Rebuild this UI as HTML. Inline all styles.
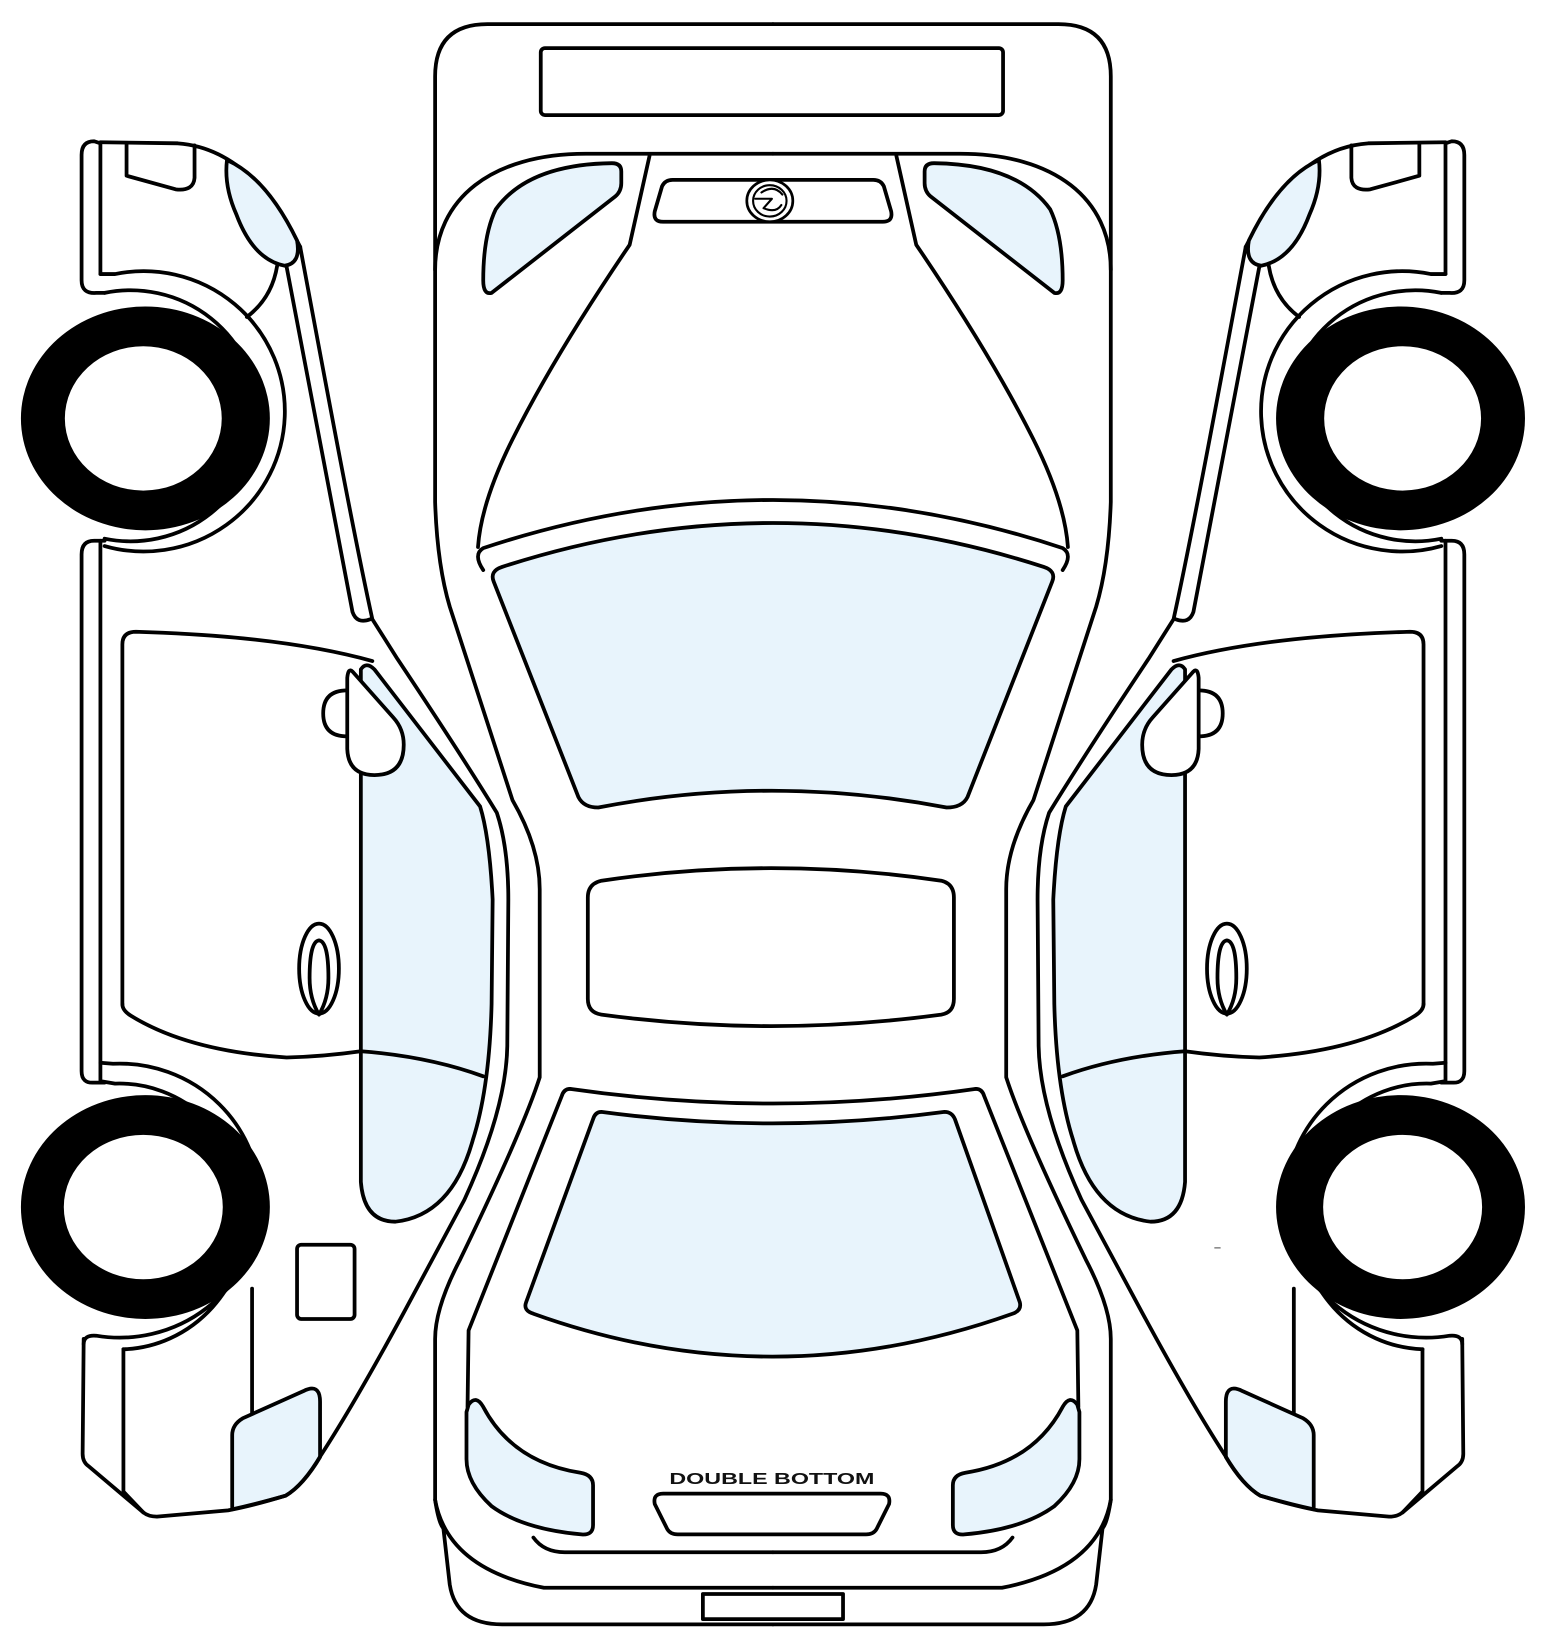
<!DOCTYPE html>
<html><head><meta charset="utf-8"><style>
html,body{margin:0;padding:0;background:#fff;}
svg{display:block;}
</style></head><body>
<svg width="1548" height="1638" viewBox="0 0 1480 1566" xmlns="http://www.w3.org/2000/svg">
<defs>
<g id="L" fill="none" stroke="#000" stroke-width="3.6" stroke-linejoin="round" stroke-linecap="round">
  <path d="M96,137 L90,135 Q78,135 78,148 L78,268 Q78,281 92,280 L100,280"/>
  <line x1="96" y1="137" x2="96" y2="262"/>
  <path d="M96,136 L170,137 Q240,142 287,236"/>
  <path d="M121,137 L121,168 L168,181 Q185,183 186,170 L186,139"/>
  <path d="M217,153 Q255,170 284,230 Q288,252 272,254 Q242,248 226,205 Q214,178 217,153 Z" fill="#e8f4fc"/>
  <path d="M265,254 Q260,285 236,303"/>
  <path d="M96,262 L110,262 A135,134 0 1 1 100,522"/>
  <path d="M100,280 A122,120 0 1 1 100,515"/>
  <path d="M274,255 C300,390 322,510 337,585 Q341,597 354,592"/>
  <path d="M100,517 L90,517 Q78,517 78,530 L78,1024 Q78,1036 90,1035 L100,1035"/>
  <line x1="96" y1="517" x2="96" y2="1035"/>
  <path d="M117,960 L117,616 Q117,604 130,604 Q270,608 356,632"/>
  <path d="M117,960 Q117,966 125,971 Q180,1005 274,1011 Q310,1010 345,1005"/>
  <path d="M345,741 L345,1130 Q348,1168 378,1168 Q432,1162 452,1090 Q468,1040 470,960 L471,860 Q468,800 459,771 L358,640 Q350,632 345,640 Z" fill="#e8f4fc"/>
  <path d="M345,1005 Q410,1010 462,1029"/>
  <path d="M332,660 Q309,660 309,682 Q309,704 332,704" fill="#fff"/>
  <path d="M337,642 L376,686 Q386,697 386,712 Q386,741 358,741 Q333,741 332,716 L332,648 Q333,638 337,642 Z" fill="#fff"/>
  <ellipse cx="305" cy="926" rx="19" ry="43"/>
  <path d="M305,970 Q296,955 296,935 Q296,900 305,899 Q314,900 314,935 Q314,955 305,970"/>
  <path d="M96,1016 L108,1017 A134,131 0 1 1 92,1277 Q80,1276 80,1285"/>
  <path d="M98,1034 L110,1036 A121,126 0 1 1 118,1290"/>
  <path d="M118,1290 L118,1426 L137,1446"/>
  <line x1="241" y1="1232" x2="241" y2="1362"/>
  <path d="M222,1443 L222,1372 Q222,1362 232,1356 L290,1330 Q306,1322 306,1340 L306,1393 Q290,1420 273,1430 Q245,1438 222,1443 Z" fill="#e8f4fc"/>
  <path d="M287,236 C312,370 338,510 356,592 L380,630 Q440,720 475,777 Q486,810 486,860 L485,1000 Q484,1060 444,1147 L386,1255 Q340,1340 307,1391 Q290,1420 273,1430 Q240,1440 218,1444 L150,1450 Q142,1450 137,1446 L85,1402 Q79,1398 79,1390 L80,1280"/>

  <path d="M739,23 L466,23 Q416,23 416,73 L416,480 Q418,540 430,580 L490,765 Q516,810 516,850 L516,1030 Q500,1080 440,1204 Q416,1250 416,1280 L416,1434 Q420,1460 425,1462"/>
  <path d="M739,147 L560,147 C470,147 416,190 416,258"/>
  <path d="M621,149 L602,234 Q530,340 490,420 Q460,480 457,523"/>
  <path d="M470,280 L588,188 Q594,183 594,175 L594,164 Q594,156 585,156 Q505,157 474,200 Q462,225 462,268 Q462,282 470,280 Z" fill="#e8f4fc"/>
  <path d="M545,1041 Q539,1041 537,1048 L448,1272 L447,1345"/>
  <path d="M448,1343 Q455,1333 462,1345 Q490,1398 555,1408 Q567,1410 567,1420 L567,1458 Q567,1468 556,1467 Q500,1462 470,1440 Q446,1418 446,1395 L446,1350 Z" fill="#e8f4fc"/>
  <path d="M416,1434 Q428,1500 520,1518 L739,1518"/>
  <path d="M424,1462 L430,1515 Q436,1553 480,1553 L739,1553"/>
  <path d="M510,1470 Q520,1484 540,1484 L739,1484"/>
  <path fill="#000" stroke="none" fill-rule="evenodd" d="M20,400 a119,107 0 1 0 238,0 a119,107 0 1 0 -238,0 Z M62,400 a75,69 0 1 0 150,0 a75,69 0 1 0 -150,0 Z"/>
  <path fill="#000" stroke="none" fill-rule="evenodd" d="M20,1154 a119,107 0 1 0 238,0 a119,107 0 1 0 -238,0 Z M61,1154 a76,69 0 1 0 152,0 a76,69 0 1 0 -152,0 Z"/>
</g>
</defs>

<use href="#L"/>
<use href="#L" transform="translate(1478,0) scale(-1,1)"/>

<g fill="none" stroke="#000" stroke-width="3.6" stroke-linejoin="round" stroke-linecap="round">
  <rect x="517" y="46" width="442" height="64" rx="4"/>
  <path d="M643,172 L835,172 Q842,172 845,178 L852,202 Q854,212 844,212 L634,212 Q624,212 626,202 L633,178 Q636,172 643,172 Z" fill="#fff"/>
  <ellipse cx="736" cy="192" rx="22" ry="20" fill="#fff" stroke-width="2.6"/>
  <ellipse cx="736" cy="192" rx="16" ry="15" stroke-width="2"/>
  <path d="M722,190 L738,190 L730,199 Q742,204 747,196 M728,184 Q740,176 748,186" stroke-width="2"/>
  <path d="M462,545 Q452,530 462,524 Q739,432 1016,524 Q1026,530 1016,545"/>
  <path d="M480,542 Q739,458 998,542 Q1010,546 1006,556 L925,762 Q920,772 905,772 Q737,740 572,772 Q558,772 553,762 L472,556 Q468,546 480,542 Z" fill="#e8f4fc"/>
  <path d="M575,842 Q737,818 900,842 Q912,845 912,858 L912,955 Q912,968 900,970 Q737,992 575,970 Q562,968 562,955 L562,858 Q562,845 575,842 Z"/>
  <path d="M545,1041 Q739,1069 933,1041"/>
  <path d="M575,1063 Q738,1085 903,1063 Q910,1063 913,1070 L975,1245 Q977,1253 968,1256 Q738,1338 510,1256 Q500,1253 503,1245 L567,1070 Q569,1063 575,1063 Z" fill="#e8f4fc"/>
  <path d="M634,1428 L842,1428 Q852,1428 850,1438 L838,1462 Q835,1467 828,1467 L648,1467 Q641,1467 638,1462 L626,1438 Q624,1428 634,1428 Z"/>
  <rect x="672" y="1524" width="134" height="24"/>
  <rect x="284" y="1190" width="55" height="71" rx="4"/>
</g>
<line x1="1161" y1="1193" x2="1167" y2="1193" stroke="#888" stroke-width="1.5"/>
<text x="738" y="1419" text-anchor="middle" font-family="'Liberation Sans', sans-serif" font-weight="bold" font-size="15" textLength="196" lengthAdjust="spacingAndGlyphs" fill="#111">DOUBLE BOTTOM</text>
</svg>
</body></html>
